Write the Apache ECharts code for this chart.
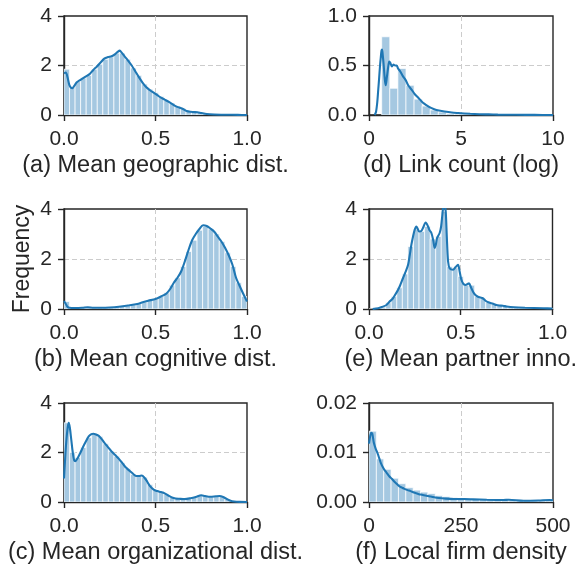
<!DOCTYPE html>
<html>
<head>
<meta charset="utf-8">
<script src="https://cdn.jsdelivr.net/npm/echarts@6/dist/echarts.min.js"></script>
<style>html,body{margin:0;padding:0;background:#fff;}#c{width:579px;height:566px;}</style>
</head>
<body>
<div id="c"></div>
<script>
// ---------- data ----------
const labelA = '(a) Mean geographic dist.';
const labelB = '(b) Mean cognitive dist.';
const labelC = '(c) Mean organizational dist.';
const labelD = '(d) Link count (log)';
const labelE = '(e) Mean partner inno.';
const labelF = '(f) Local firm density';
const yName = 'Frequency';

// histogram bins: start, width, heights
const histStartA = 0, histWidthA = 0.0303;
const histA = [1.85,1.15,1.35,1.5,1.6,1.85,2.05,2.25,2.35,2.5,2.5,2.25,1.9,1.6,1.25,1.05,0.9,0.75,0.6,0.48,0.35,0.26,0.15,0.13,0.11,0.06,0.03,0.02,0.01,0.01,0.005,0.005,0.003];
const kdeA = [[0,1.68],[0.01,1.72],[0.02,1.5],[0.03,1.2],[0.045,1.08],[0.06,1.22],[0.07,1.32],[0.09,1.42],[0.12,1.56],[0.14,1.65],[0.16,1.82],[0.18,1.96],[0.2,2.12],[0.22,2.28],[0.24,2.34],[0.26,2.37],[0.28,2.46],[0.295,2.56],[0.305,2.6],[0.315,2.52],[0.33,2.38],[0.35,2.2],[0.37,2.0],[0.39,1.76],[0.41,1.52],[0.43,1.3],[0.45,1.12],[0.47,1.0],[0.49,0.9],[0.51,0.8],[0.53,0.7],[0.55,0.62],[0.57,0.54],[0.59,0.45],[0.61,0.36],[0.63,0.3],[0.65,0.24],[0.67,0.16],[0.69,0.13],[0.71,0.12],[0.73,0.11],[0.75,0.08],[0.78,0.04],[0.82,0.02],[0.88,0.01],[0.95,0.005],[1.0,0.0]];

const histStartB = 0, histWidthB = 0.0303;
const histB = [0.3,0.05,0.04,0.05,0.07,0.05,0.05,0.05,0.06,0.08,0.1,0.13,0.17,0.21,0.28,0.34,0.4,0.5,0.65,0.95,1.25,1.7,2.3,2.75,3.15,3.3,3.2,3.0,2.7,2.25,1.7,1.05,0.5];
const kdeB = [[0,0.32],[0.01,0.2],[0.02,0.08],[0.03,0.05],[0.06,0.04],[0.1,0.05],[0.13,0.07],[0.16,0.05],[0.2,0.05],[0.25,0.06],[0.3,0.09],[0.35,0.14],[0.4,0.2],[0.43,0.27],[0.46,0.33],[0.5,0.4],[0.53,0.5],[0.56,0.62],[0.58,0.8],[0.6,1.05],[0.62,1.25],[0.64,1.5],[0.66,1.9],[0.68,2.35],[0.7,2.75],[0.72,3.0],[0.74,3.2],[0.76,3.35],[0.78,3.32],[0.8,3.22],[0.82,3.1],[0.84,2.9],[0.86,2.7],[0.88,2.45],[0.9,2.15],[0.92,1.78],[0.94,1.25],[0.96,0.92],[0.98,0.6],[1.0,0.3]];

const histStartC = 0, histWidthC = 0.0303;
const histC = [3.2,2.0,1.8,2.2,2.6,2.75,2.65,2.35,2.05,1.85,1.58,1.35,1.12,1.05,1.0,0.7,0.48,0.42,0.32,0.18,0.14,0.12,0.14,0.18,0.26,0.24,0.21,0.23,0.22,0.1,0.03,0.01,0.005];
const kdeC = [[0,0.95],[0.005,1.6],[0.012,2.4],[0.02,3.0],[0.026,3.2],[0.032,3.0],[0.04,2.5],[0.047,2.05],[0.055,1.7],[0.062,1.65],[0.07,1.72],[0.08,1.85],[0.09,2.0],[0.104,2.22],[0.12,2.45],[0.135,2.65],[0.15,2.74],[0.16,2.76],[0.175,2.73],[0.19,2.67],[0.205,2.55],[0.22,2.4],[0.24,2.22],[0.26,2.04],[0.28,1.9],[0.3,1.74],[0.32,1.56],[0.34,1.38],[0.36,1.25],[0.38,1.12],[0.395,1.05],[0.41,1.05],[0.425,1.07],[0.44,0.98],[0.455,0.82],[0.47,0.64],[0.49,0.5],[0.51,0.44],[0.53,0.4],[0.55,0.35],[0.57,0.26],[0.59,0.18],[0.61,0.14],[0.63,0.13],[0.66,0.12],[0.69,0.15],[0.72,0.2],[0.75,0.27],[0.77,0.24],[0.8,0.21],[0.83,0.23],[0.85,0.24],[0.87,0.2],[0.89,0.12],[0.91,0.05],[0.93,0.02],[0.96,0.005],[1.0,0]];

const histStartD = 0.69, histWidthD = 0.44;
const histD = [0.79,0.27,0.47,0.30,0.16,0.09,0.05,0.03,0.015,0.01,0.006,0.004,0.003,0.002];
const kdeD = [[0.31,0],[0.38,0.03],[0.45,0.13],[0.5,0.25],[0.55,0.37],[0.6,0.5],[0.64,0.58],[0.68,0.65],[0.71,0.66],[0.75,0.6],[0.8,0.5],[0.86,0.36],[0.91,0.30],[0.97,0.38],[1.04,0.48],[1.1,0.54],[1.15,0.53],[1.25,0.49],[1.33,0.51],[1.42,0.5],[1.5,0.5],[1.58,0.47],[1.7,0.44],[1.85,0.39],[2.0,0.35],[2.13,0.3],[2.3,0.26],[2.49,0.21],[2.7,0.17],[2.85,0.14],[3.0,0.115],[3.2,0.09],[3.4,0.07],[3.58,0.055],[3.8,0.045],[4.1,0.035],[4.5,0.025],[4.85,0.02],[5.5,0.012],[6.0,0.008],[6.5,0.006],[7.0,0.004],[8,0.002],[9,0.001],[10,0]];

const histStartE = 0, histWidthE = 0.0303;
const histE = [0,0.02,0.08,0.25,0.5,0.85,1.4,2.5,3.2,3.1,3.3,2.8,2.9,3.9,1.7,1.65,1.3,0.95,0.95,0.5,0.42,0.28,0.2,0.14,0.12,0.08,0.07,0.05,0.04,0.03,0.03,0.02,0.02];
const kdeE = [[0.02,0],[0.05,0.03],[0.07,0.08],[0.095,0.16],[0.11,0.28],[0.131,0.43],[0.145,0.6],[0.158,0.76],[0.17,0.95],[0.185,1.23],[0.2,1.5],[0.213,1.77],[0.222,2.15],[0.231,2.57],[0.24,2.9],[0.249,3.17],[0.258,3.3],[0.266,3.2],[0.273,3.1],[0.285,3.12],[0.294,3.24],[0.309,3.46],[0.322,3.3],[0.33,3.15],[0.34,3.04],[0.35,2.75],[0.358,2.44],[0.365,2.6],[0.371,2.84],[0.385,3.04],[0.393,3.3],[0.4,3.78],[0.409,4.3],[0.418,3.9],[0.424,2.9],[0.431,1.9],[0.44,1.62],[0.458,1.57],[0.472,1.68],[0.485,1.77],[0.494,1.5],[0.503,1.18],[0.515,1.0],[0.527,0.96],[0.537,1.0],[0.545,1.03],[0.555,0.88],[0.567,0.69],[0.58,0.56],[0.594,0.49],[0.607,0.46],[0.62,0.43],[0.635,0.33],[0.65,0.27],[0.667,0.23],[0.68,0.2],[0.694,0.16],[0.71,0.14],[0.73,0.13],[0.75,0.1],[0.79,0.07],[0.85,0.05],[0.95,0.03],[1.0,0.02]];

const histStartF = 0, histWidthF = 20;
const histF = [0.0143,0.0087,0.0066,0.0048,0.0037,0.0029,0.0024,0.002,0.0017,0.0013,0.0011,0.0009,0.0008,0.0007,0.0006,0.0006,0.0005,0.0005,0.0004,0.0004,0.0004,0.0004,0.0003,0.0003,0.0003];
const kdeF = [[0,0.0118],[3,0.0132],[6,0.014],[9,0.0138],[13,0.012],[18,0.0108],[23,0.0099],[28,0.0088],[32,0.0079],[37,0.0071],[41,0.0066],[48,0.0059],[55,0.0052],[62,0.0047],[68,0.0042],[75,0.0037],[82,0.0032],[90,0.0029],[95,0.0027],[105,0.0024],[113,0.0022],[122,0.0019],[131,0.0017],[140,0.0015],[149,0.00135],[160,0.0012],[168,0.0011],[180,0.0009],[190,0.0008],[204,0.0007],[230,0.0006],[260,0.0006],[283,0.00054],[320,0.00045],[365,0.0004],[380,0.00045],[420,0.00025],[460,0.0003],[491,0.0004],[500,0.00035]];

// axis ranges / tick steps
const xRangeA = [0, 1, 0.5], yRangeA = [0, 4, 2];
const xRangeB = [0, 1, 0.5], yRangeB = [0, 4, 2];
const xRangeC = [0, 1, 0.5], yRangeC = [0, 4, 2];
const xRangeD = [0, 10, 5], yRangeD = [0, 1, 0.5];
const xRangeE = [0, 1, 0.5], yRangeE = [0, 4, 2];
const xRangeF = [0, 500, 250], yRangeF = [0, 0.02, 0.01];

// ---------- build ----------
const FONT = 'Liberation Sans, Arial, sans-serif';
const TXT = '#262626';
const BAR = '#a5c8e1';
const LINE = '#1f77b4';

function bins(start, w, h) { return h.map((v, i) => [start + i * w, start + (i + 1) * w, v]); }

const panels = [
  {label: labelA, hist: bins(histStartA, histWidthA, histA), kde: kdeA, xr: xRangeA, yr: yRangeA, xd: 1, yd: 0, pos: [64, 16, 183, 99]},
  {label: labelB, hist: bins(histStartB, histWidthB, histB), kde: kdeB, xr: xRangeB, yr: yRangeB, xd: 1, yd: 0, pos: [64, 209, 183, 100], yname: yName},
  {label: labelC, hist: bins(histStartC, histWidthC, histC), kde: kdeC, xr: xRangeC, yr: yRangeC, xd: 1, yd: 0, pos: [64, 403, 183, 100]},
  {label: labelD, hist: bins(histStartD, histWidthD, histD), kde: kdeD, xr: xRangeD, yr: yRangeD, xd: 0, yd: 1, pos: [369, 16, 184, 99]},
  {label: labelE, hist: bins(histStartE, histWidthE, histE), kde: kdeE, xr: xRangeE, yr: yRangeE, xd: 1, yd: 0, pos: [369, 209, 184, 100]},
  {label: labelF, hist: bins(histStartF, histWidthF, histF), kde: kdeF, xr: xRangeF, yr: yRangeF, xd: 0, yd: 2, pos: [369, 403, 184, 100]}
];

const split = {show: true, showMinLine: false, showMaxLine: false, lineStyle: {color: '#cccccc', type: [5, 3], width: 1}};
const grid = [], xAxis = [], yAxis = [], series = [];
panels.forEach((p, i) => {
  grid.push({left: p.pos[0], top: p.pos[1], width: p.pos[2], height: p.pos[3], show: true,
    borderColor: TXT, borderWidth: 1.4, backgroundColor: 'transparent', containLabel: false});
  xAxis.push({type: 'value', gridIndex: i, min: p.xr[0], max: p.xr[1], interval: p.xr[2],
    name: p.label, nameLocation: 'middle', nameGap: 39,
    nameTextStyle: {fontFamily: FONT, fontSize: 23.5, color: TXT},
    axisLine: {show: true, lineStyle: {color: TXT, width: 1.4}},
    axisTick: {show: true, length: 6, lineStyle: {color: TXT, width: 1.4}},
    axisLabel: {fontFamily: FONT, fontSize: 21, color: TXT, margin: 14,
      formatter: v => v.toFixed(p.xd)},
    splitLine: split});
  yAxis.push({type: 'value', gridIndex: i, min: p.yr[0], max: p.yr[1], interval: p.yr[2],
    name: p.yname || '', nameLocation: 'middle', nameGap: 30,
    nameTextStyle: {fontFamily: FONT, fontSize: 23, color: TXT},
    axisLine: {show: true, lineStyle: {color: TXT, width: 1.4}},
    axisTick: {show: true, length: 6, lineStyle: {color: TXT, width: 1.4}},
    axisLabel: {fontFamily: FONT, fontSize: 21, color: TXT, margin: 12,
      formatter: v => v.toFixed(p.yd)},
    splitLine: split});
  series.push({type: 'custom', xAxisIndex: i, yAxisIndex: i, data: p.hist, clip: true,
    encode: {x: [0, 1], y: 2}, z: 1,
    renderItem: (params, api) => {
      const a = api.coord([api.value(0), api.value(2)]);
      const b = api.coord([api.value(1), 0]);
      return {type: 'rect', shape: {x: a[0], y: a[1], width: b[0] - a[0], height: b[1] - a[1]},
        style: {fill: BAR, stroke: '#ffffff', lineWidth: 0.7, opacity: 1}};
    }});
  series.push({type: 'line', xAxisIndex: i, yAxisIndex: i, data: p.kde, smooth: 0.3,
    showSymbol: false, clip: true, z: 3, lineStyle: {color: LINE, width: 2.1}});
});

const chart = echarts.init(document.getElementById('c'), null, {renderer: 'canvas'});
chart.setOption({animation: false, backgroundColor: '#ffffff', grid, xAxis, yAxis, series});
</script>
</body>
</html>
